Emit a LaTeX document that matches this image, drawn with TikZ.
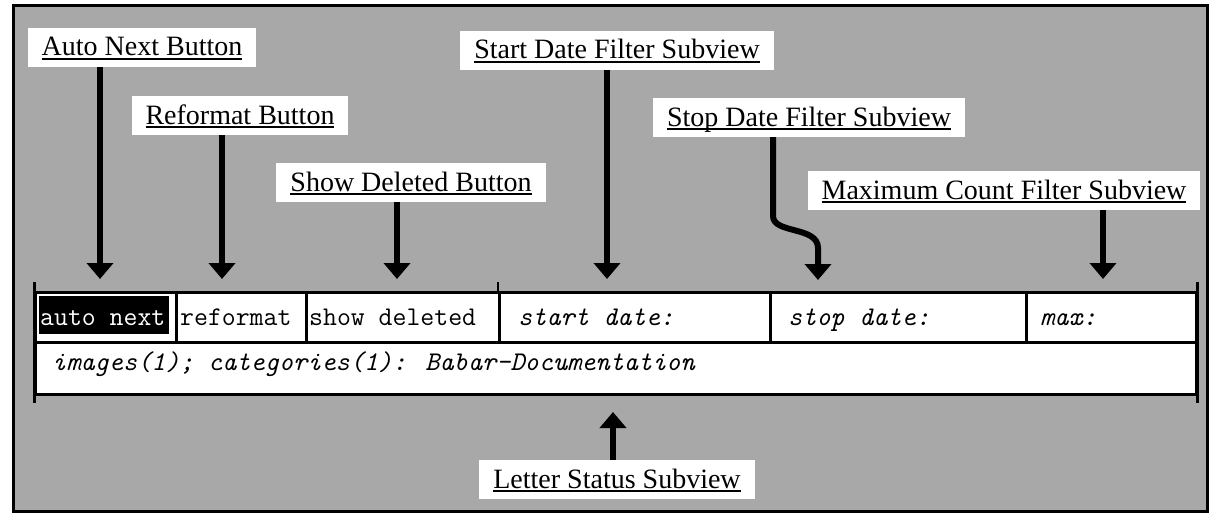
\documentclass[tikz,border=0pt]{standalone}
\usepackage{fontspec}
\setmainfont{Liberation Serif}
\usetikzlibrary{arrows.meta}
\newcommand\labul[1]{\sbox0{#1}\rlap{\rule[-4pt]{\wd0}{1.6pt}}\usebox0}
\definecolor{dither}{RGB}{168,168,168}
\begin{document}
\begin{tikzpicture}[x=1pt,y=-1pt,
  lab/.style={fill=white, inner xsep=14pt, inner ysep=2pt, text height=26pt, text depth=9pt, anchor=base, font=\fontsize{28}{30}\selectfont},
  arr/.style={line width=6pt, -{Triangle[width=26pt,length=16pt]}},
  cell/.style={draw, line width=2.5pt, fill=white, anchor=north west, inner sep=0pt},
  mono/.style={font=\fontsize{27}{30}\selectfont\ttfamily, anchor=base west, inner sep=0pt},
  monoit/.style={mono, font=\fontsize{27}{30}\selectfont\ttfamily\itshape}]
\useasboundingbox (0,0) rectangle (1217,519);
\fill[white] (0,0) rectangle (1217,519);
\draw[line width=3pt, fill=dither] (13,6) rectangle (1207,511);

% window cells
\node[cell, minimum width=1161pt, minimum height=52pt] (status) at (34,341) {};
\node[cell, minimum width=141pt, minimum height=50pt] (c1) at (34,291) {};
\node[cell, minimum width=130pt, minimum height=50pt] (c2) at (175,291) {};
\node[cell, minimum width=193pt, minimum height=50pt] (c3) at (305,291) {};
\node[cell, minimum width=271pt, minimum height=50pt] (c4) at (498,291) {};
\node[cell, minimum width=256pt, minimum height=50pt] (c5) at (769,291) {};
\node[cell, minimum width=170pt, minimum height=50pt] (c6) at (1025,291) {};
\draw[line width=3pt] (c1.north west) ++(0,-9) -- (status.south west) -- ++(0,7);
\draw[line width=3pt] (c6.north east) ++(0,-9) -- (status.south east) -- ++(0,7);
\draw[line width=2.5pt] (c4.north west) -- ++(0,-9);
\node[fill=black, minimum width=130pt, minimum height=38pt, anchor=north west, inner sep=0pt] (anb) at (39,296) {};

\node[mono, text=white] (tan) at (40,325) {auto next};
\node[mono] (trf) at (180,325) {reformat};
\node[mono] (tsd) at (309,325) {show deleted};
\node[monoit] (tst) at (518,325) {start date:};
\node[monoit] (tsp) at (788,325) {stop date:};
\node[monoit] (tmx) at (1040,325) {max:};
\node[monoit] (tls) at (52,370) {images(1); categories(1): Babar-Documentation};

% labels
\node[lab] (lan) at (142,56) {\labul{Auto Next Button}};
\node[lab] (lrf) at (240,124) {\labul{Reformat Button}};
\node[lab] (lsd) at (411,191) {\labul{Show Deleted Button}};
\node[lab] (lst) at (617,59) {\labul{Start Date Filter Subview}};
\node[lab] (lsp) at (809,126) {\labul{Stop Date Filter Subview}};
\node[lab] (lmx) at (1004,199) {\labul{Maximum Count Filter Subview}};
\node[lab] (lls) at (617,488) {\labul{Letter Status Subview}};

% arrow tips
\coordinate (t1) at (100,279);
\coordinate (t2) at (222,279);
\coordinate (t3) at (397,279);
\coordinate (t4) at (607,279);
\coordinate (b1) at (773,216);
\coordinate (b2) at (818,248);
\coordinate (t5) at (818,280);
\coordinate (t6) at (1103,279);
\coordinate (t7) at (613,412);

\draw[arr] (t1 |- lan.south) -- (t1);
\draw[arr] (t2 |- lrf.south) -- (t2);
\draw[arr] (t3 |- lsd.south) -- (t3);
\draw[arr] (t4 |- lst.south) -- (t4);
\draw[arr] (b1 |- lsp.south) -- (b1) .. controls (773,234) and (818,226) .. (b2) -- (t5);
\draw[arr] (t6 |- lmx.south) -- (t6);
\draw[arr] (t7 |- lls.north) -- (t7);
\end{tikzpicture}
\end{document}
